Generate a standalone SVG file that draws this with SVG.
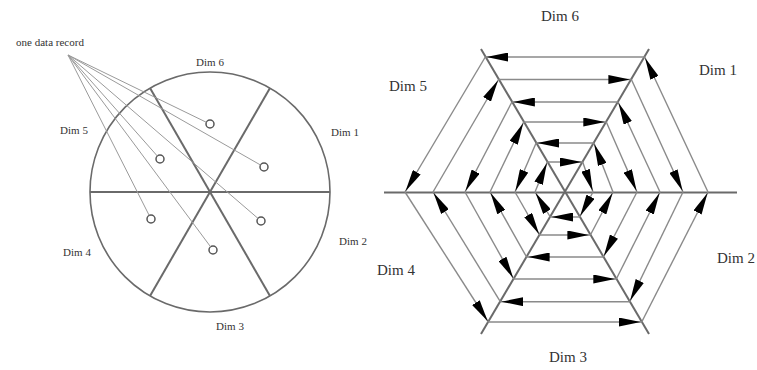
<svg xmlns="http://www.w3.org/2000/svg" width="757" height="370" viewBox="0 0 757 370">
<style>
.lbl{font-family:"Liberation Serif","Times New Roman",serif;fill:#333;text-anchor:middle}
.sm{font-size:11px}
.lg{font-size:15px}
.axis{stroke:#6a6a6a;stroke-width:2;fill:none}
.circ{stroke:#6a6a6a;stroke-width:1.6;fill:none}
.rec{stroke:#9a9a9a;stroke-width:1;fill:none}
.pt{stroke:#555;stroke-width:1.5;fill:#fff}
.sp{stroke:#8a8a8a;stroke-width:1.4;fill:none;marker-end:url(#ah)}
</style>
<defs>
<marker id="ah" markerUnits="userSpaceOnUse" markerWidth="22" markerHeight="9" viewBox="0 0 22 9" refX="23" refY="4.5" orient="auto">
<path d="M0,0 L22,4.5 L0,9 Z" fill="#000"/>
</marker>
</defs>
<rect width="757" height="370" fill="#fff"/>

<!-- Left: circle segments -->
<g id="circle-segments">
<circle cx="210" cy="192" r="120" class="circ"/>
<line x1="90" y1="192" x2="330" y2="192" class="axis"/>
<line x1="150" y1="88.1" x2="270" y2="295.9" class="axis"/>
<line x1="270" y1="88.1" x2="150" y2="295.9" class="axis"/>
</g>
<g id="record-label"><text x="50" y="46" class="lbl sm">one data record</text></g>
<g id="p1"><circle cx="210" cy="124" r="4" class="pt"/></g>
<g id="p2"><circle cx="264" cy="167" r="4" class="pt"/></g>
<g id="p3"><circle cx="160" cy="159" r="4" class="pt"/></g>
<g id="p4"><circle cx="151" cy="219" r="4" class="pt"/></g>
<g id="p5"><circle cx="261" cy="221" r="4" class="pt"/></g>
<g id="p6"><circle cx="213" cy="250" r="4" class="pt"/></g>
<g id="left-labels">
<text x="210" y="66" class="lbl sm">Dim 6</text>
<text x="345" y="136" class="lbl sm">Dim 1</text>
<text x="74" y="134" class="lbl sm">Dim 5</text>
<text x="353" y="245" class="lbl sm">Dim 2</text>
<text x="77" y="256" class="lbl sm">Dim 4</text>
<text x="230" y="330" class="lbl sm">Dim 3</text>
</g>

<!-- Right: arrangement axes -->
<g id="hex-axes">
<line x1="384" y1="192.5" x2="737" y2="192.5" class="axis"/>
<line x1="481" y1="49" x2="649" y2="334" class="axis"/>
<line x1="649" y1="49" x2="481" y2="334" class="axis"/>
</g>
<g id="right-labels">
<text x="560" y="21" class="lbl lg">Dim 6</text>
<text x="718" y="75" class="lbl lg">Dim 1</text>
<text x="408" y="91" class="lbl lg">Dim 5</text>
<text x="396" y="275" class="lbl lg">Dim 4</text>
<text x="736" y="263" class="lbl lg">Dim 2</text>
<text x="568" y="362" class="lbl lg">Dim 3</text>
</g>

<g id="connectors">
<g id="record-lines">
<line x1="68" y1="55" x2="206.4" y2="122.3" class="rec"/>
<line x1="68" y1="55" x2="260.5" y2="165" class="rec"/>
<line x1="68" y1="55" x2="157.3" y2="156" class="rec"/>
<line x1="68" y1="55" x2="149.2" y2="215.4" class="rec"/>
<line x1="68" y1="55" x2="258" y2="218.4" class="rec"/>
<line x1="68" y1="55" x2="210.6" y2="246.8" class="rec"/>
</g>
<g id="spiral">
<!-- L1 CCW -->
<line x1="644.7" y1="57" x2="485.3" y2="57" class="sp"/>
<line x1="485.3" y1="57" x2="405" y2="192" class="sp"/>
<line x1="405" y1="192" x2="488.3" y2="322" class="sp"/>
<line x1="488.3" y1="322" x2="641.7" y2="322" class="sp"/>
<line x1="641.7" y1="322" x2="708" y2="192" class="sp"/>
<line x1="708" y1="192" x2="644.7" y2="57" class="sp"/>
<!-- L2 CW -->
<line x1="498.6" y1="79.5" x2="631.4" y2="79.5" class="sp"/>
<line x1="631.4" y1="79.5" x2="683" y2="192" class="sp"/>
<line x1="683" y1="192" x2="629.7" y2="301.7" class="sp"/>
<line x1="629.7" y1="301.7" x2="500.3" y2="301.7" class="sp"/>
<line x1="500.3" y1="301.7" x2="433" y2="192" class="sp"/>
<line x1="433" y1="192" x2="498.6" y2="79.5" class="sp"/>
<!-- L3 CCW -->
<line x1="618.1" y1="102" x2="511.9" y2="102" class="sp"/>
<line x1="511.9" y1="102" x2="465" y2="192" class="sp"/>
<line x1="465" y1="192" x2="513.7" y2="279" class="sp"/>
<line x1="513.7" y1="279" x2="616.3" y2="279" class="sp"/>
<line x1="616.3" y1="279" x2="660" y2="192" class="sp"/>
<line x1="660" y1="192" x2="618.1" y2="102" class="sp"/>
<!-- L4 CW -->
<line x1="523.7" y1="122" x2="606.3" y2="122" class="sp"/>
<line x1="606.3" y1="122" x2="637" y2="192" class="sp"/>
<line x1="637" y1="192" x2="603.4" y2="257" class="sp"/>
<line x1="603.4" y1="257" x2="526.6" y2="257" class="sp"/>
<line x1="526.6" y1="257" x2="490" y2="192" class="sp"/>
<line x1="490" y1="192" x2="523.7" y2="122" class="sp"/>
<!-- L5 CCW -->
<line x1="593.9" y1="143" x2="536.1" y2="143" class="sp"/>
<line x1="536.1" y1="143" x2="515" y2="192" class="sp"/>
<line x1="515" y1="192" x2="539.6" y2="235" class="sp"/>
<line x1="539.6" y1="235" x2="590.4" y2="235" class="sp"/>
<line x1="590.4" y1="235" x2="613" y2="192" class="sp"/>
<line x1="613" y1="192" x2="593.9" y2="143" class="sp"/>
<!-- L6 CW -->
<line x1="547.3" y1="162" x2="582.7" y2="162" class="sp"/>
<line x1="582.7" y1="162" x2="593" y2="192" class="sp"/>
<line x1="593" y1="192" x2="579.7" y2="217" class="sp"/>
<line x1="579.7" y1="217" x2="550.3" y2="217" class="sp"/>
<line x1="550.3" y1="217" x2="535" y2="192" class="sp"/>
<line x1="535" y1="192" x2="547.3" y2="162" class="sp"/>
</g>
</g>
</svg>
